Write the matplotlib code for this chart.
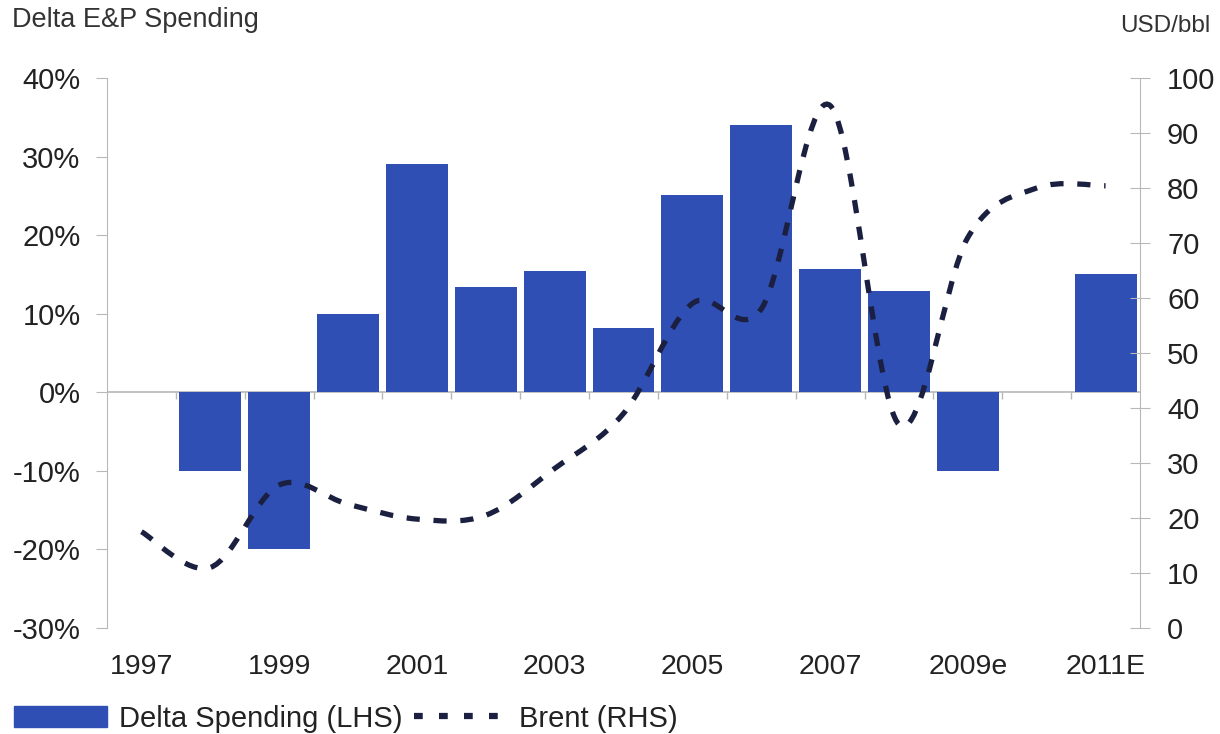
import numpy as np
import matplotlib
matplotlib.use("Agg")
import matplotlib.pyplot as plt
from matplotlib.path import Path
from matplotlib.patches import PathPatch
from matplotlib.lines import Line2D
from matplotlib.patches import Patch

plt.rcParams['font.family'] = ['Liberation Sans', 'DejaVu Sans']

# data
years = ['1997', '1998', '1999', '2000', '2001', '2002', '2003', '2004',
         '2005', '2006', '2007', '2008', '2009e', '2010', '2011E']
spending = [0, -10, -20, 10, 29, 13.4, 15.4, 8.2, 25.1, 34, 15.7, 12.9, -10, 0, 15.1]
brent = [17.5, 11, 26, 22.5, 19.8, 20.5, 29, 39, 59, 58, 95, 37, 71, 80, 80.4]
year_ticks = ['1997', '1999', '2001', '2003', '2005', '2007', '2009e', '2011E']

bar_col = '#2f4fb4'
line_col = '#1b2040'
grey = '#b8b8b8'
txt = '#222222'

fig = plt.figure(figsize=(12.2, 7.34), dpi=100)
ax = fig.add_axes([107/1220, 1-628/734, 1033/1220, 550/734])
x = np.arange(len(years))

ax.bar(x, spending, width=0.9, color=bar_col, zorder=2)
ax.axhline(0, color=grey, lw=1.2, zorder=1)
# little category ticks on the zero line
ax.vlines(x[:-1] + 0.5, -0.9, 0, color=grey, lw=1)

ax.set_xlim(-0.5, len(years) - 0.5)
ax.set_ylim(-30, 40)
ax.set_yticks(np.arange(-30, 41, 10))
ax.set_yticklabels(['%d%%' % v for v in range(-30, 41, 10)])
ax.set_xticks([years.index(y) for y in year_ticks])
ax.set_xticklabels(year_ticks)

for s in ['top', 'right', 'bottom']:
    ax.spines[s].set_visible(False)
ax.spines['left'].set_color(grey)
ax.tick_params(axis='y', direction='out', length=8, color=grey, pad=11,
               labelsize=21, labelcolor=txt)
ax.tick_params(axis='x', length=0, pad=19, labelsize=20.5, labelcolor=txt)

ax2 = ax.twinx()
ax2.set_ylim(0, 100)
ax2.set_yticks(np.arange(0, 101, 10))
for s in ['top', 'left', 'bottom']:
    ax2.spines[s].set_visible(False)
ax2.spines['right'].set_color(grey)
ax2.tick_params(axis='y', direction='inout', length=15, color=grey, pad=12,
                labelsize=21, labelcolor=txt)

# smoothed Brent line (Bezier through the yearly points)
pts = np.column_stack([x, brent]).astype(float)
verts = [pts[0]]
codes = [Path.MOVETO]
n = len(pts)
for i in range(n - 1):
    p0 = pts[i - 1] if i > 0 else pts[i]
    p1 = pts[i]
    p2 = pts[i + 1]
    p3 = pts[i + 2] if i + 2 < n else pts[i + 1]
    c1 = p1 + (p2 - p0) / 6.0
    c2 = p2 - (p3 - p1) / 6.0
    verts += [c1, c2, p2]
    codes += [Path.CURVE4] * 3
patch = PathPatch(Path(verts, codes), fill=False, edgecolor=line_col, lw=3.8,
                  linestyle=(0, (2.5, 2.6)), capstyle='butt', zorder=3)
ax2.add_patch(patch)

fig.text(12/1220, 1-20/734, 'Delta E&P Spending', fontsize=19.5, color='#333333',
         ha='left', va='center')
fig.text(1210/1220, 1-26/734, 'USD/bbl', fontsize=17.5, color='#333333',
         ha='right', va='center')

handles = [Patch(color=bar_col),
           Line2D([], [], color=line_col, lw=4.5, linestyle=(0, (1.4, 2.6)))]
fig.legend(handles, ['Delta Spending (LHS)', 'Brent (RHS)'], ncol=2,
           loc='lower left', bbox_to_anchor=(-0.003, -0.022), frameon=False,
           fontsize=21, handlelength=3.2, handleheight=0.75,
           handletextpad=0.4, columnspacing=0.4, labelcolor=txt,
           borderaxespad=0.2)

fig.savefig('out.png', dpi=100)
